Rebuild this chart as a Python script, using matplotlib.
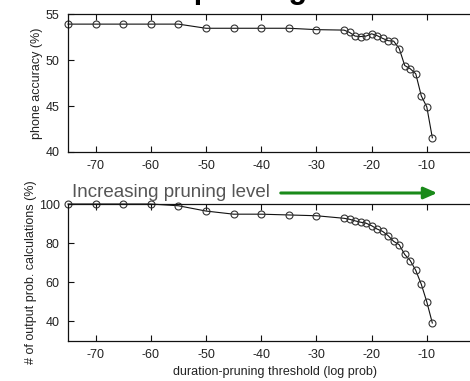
import matplotlib
matplotlib.use("Agg")
import matplotlib.pyplot as plt

plt.rcParams['font.family'] = ['Liberation Sans', 'DejaVu Sans']

# Data
thresholds = [-75, -70, -65, -60, -55, -50, -45, -40, -35, -30,
              -25, -24, -23, -22, -21, -20, -19, -18, -17, -16,
              -15, -14, -13, -12, -11, -10, -9]
phone_accuracy = [53.9, 53.9, 53.9, 53.9, 53.9, 53.45, 53.45, 53.45, 53.45, 53.3,
                  53.25, 53.0, 52.6, 52.55, 52.6, 52.85, 52.65, 52.35, 52.1, 52.05,
                  51.25, 49.4, 49.05, 48.5, 46.1, 44.9, 41.55]
output_prob_calcs = [100, 100, 100, 100, 99.1, 96.4, 94.8, 94.8, 94.4, 94.0,
                     92.7, 92.2, 91.4, 90.7, 90.2, 88.9, 87.2, 86.0, 83.8, 80.9,
                     79.2, 74.2, 71.1, 66.1, 59.0, 50.0, 39.2]
xticks = [-70, -60, -50, -40, -30, -20, -10]
top_yticks = [40, 45, 50, 55]
bot_yticks = [40, 60, 80, 100]

W, H = 470, 381
fig = plt.figure(figsize=(W / 100, H / 100), dpi=100)

def fx(px):
    return px / W

def fy(py):
    return 1 - py / H

left = fx(68)
width = fx(482) - fx(68)
ax1 = fig.add_axes([left, fy(152), width, fy(14) - fy(152)])
ax2 = fig.add_axes([left, fy(341), width, fy(204) - fy(341)])

tick_color = '#222222'
for ax in (ax1, ax2):
    ax.set_xlim(-75, 0)
    ax.set_xticks(xticks)
    ax.set_xticklabels([f"{t:d}" for t in xticks])
    ax.tick_params(direction='in', top=True, right=True, length=4, width=0.8,
                   labelsize=9, labelcolor=tick_color, colors='#111111', pad=6)
    for s in ax.spines.values():
        s.set_linewidth(0.9)
        s.set_color('#111111')

ax1.plot(thresholds, phone_accuracy, '-o', color='#111111', lw=0.8,
         markersize=5, markerfacecolor='none', markeredgecolor='#333333',
         markeredgewidth=0.8, clip_on=False)
ax1.set_ylim(40, 55)
ax1.set_yticks(top_yticks)
ax1.set_ylabel('phone accuracy (%)', fontsize=9, color='#222222', labelpad=2)

ax2.plot(thresholds, output_prob_calcs, '-o', color='#111111', lw=0.8,
         markersize=5, markerfacecolor='none', markeredgecolor='#333333',
         markeredgewidth=0.8, clip_on=False)
ax2.set_ylim(30, 100)
ax2.set_yticks(bot_yticks)
ax2.set_ylabel('# of output prob. calculations (%)', fontsize=9, color='#222222', labelpad=1)
ax2.set_xlabel('duration-pruning threshold (log prob)', fontsize=9, color='#222222', labelpad=3)

# Annotation between panels
fig.text(fx(72), fy(193), 'Increasing pruning level', fontsize=13.5,
         color='#555555', va='center', ha='left')
fig.add_artist(matplotlib.patches.FancyArrowPatch(
    (fx(278), fy(193)), (fx(440), fy(193)), transform=fig.transFigure,
    arrowstyle='-|>,head_length=8,head_width=3.5', color='#1a8a1a', lw=2.2,
    mutation_scale=1))

# Title (cut off at the top of the image, as in the reference)
fig.text(fx(60), fy(-2), 'Duration pruning', fontsize=22, fontweight='bold',
         ha='left', va='baseline', color='black')

fig.savefig('out.png', dpi=100)
